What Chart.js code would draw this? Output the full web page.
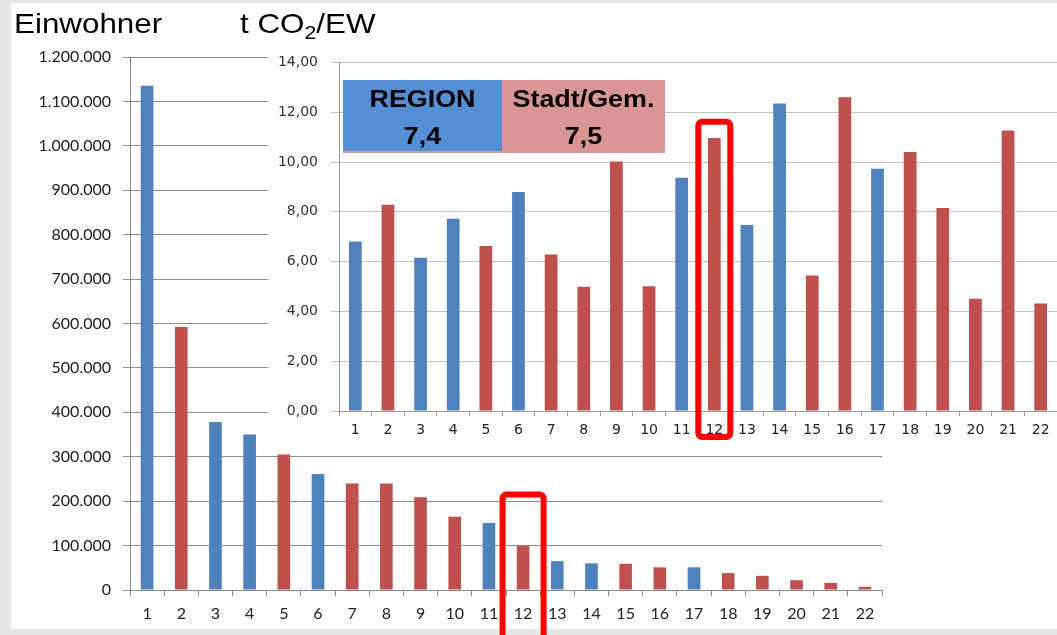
<!DOCTYPE html>
<html><head><meta charset="utf-8">
<script src="https://cdn.jsdelivr.net/npm/chart.js@4.4.1/dist/chart.umd.min.js"></script>
<style>
html,body{margin:0;padding:0;}
body{width:1057px;height:635px;background:#e7e7e7;position:relative;overflow:hidden;font-family:"Liberation Sans",Arial,sans-serif;}
#panel{position:absolute;left:11px;top:3px;width:1046px;height:626px;background:#fff;}
#c1{position:absolute;left:0;top:0;}
#wrap2{position:absolute;left:268px;top:41px;width:789px;height:399px;background:#fff;}
#c2{position:absolute;left:0;top:0;}
.title{position:absolute;font-size:28px;line-height:28px;color:#000;white-space:nowrap;transform:scaleX(1.12);transform-origin:0 0;}
.title sub{font-size:19px;line-height:0;vertical-align:-6px;}
.lbox{position:absolute;}
.ltxt{position:absolute;left:0;width:100%;text-align:center;font-weight:bold;font-size:24px;line-height:24px;color:#000;white-space:nowrap;transform:scaleX(1.12);transform-origin:50% 0;}
</style></head>
<body>
<div id="panel"></div>
<canvas id="c1" width="1057" height="635"></canvas>
<div id="wrap2"><canvas id="c2" width="789" height="399"></canvas></div>
<div class="title" style="left:14px;top:10px;">Einwohner</div>
<div class="title" style="left:240px;top:10px;">t CO<sub>2</sub>/EW</div>
<div class="lbox" style="left:343px;top:80px;width:322px;height:73px;background:#d99694;"></div>
<div class="lbox" style="left:343px;top:80px;width:159px;height:71px;background:#558ed5;"></div>
<div class="lbox" style="left:343px;top:80px;width:159px;height:73px;">
  <div class="ltxt" id="lgR1" style="top:7px;"></div>
  <div class="ltxt" id="lgR2" style="top:44px;"></div>
</div>
<div class="lbox" style="left:502px;top:80px;width:163px;height:73px;">
  <div class="ltxt" id="lgS1" style="top:7px;"></div>
  <div class="ltxt" id="lgS2" style="top:44px;"></div>
</div>
<script>
// ---- data ----
const categories = ['1','2','3','4','5','6','7','8','9','10','11','12','13','14','15','16','17','18','19','20','21','22'];
const einwohner = [1135000, 592000, 378000, 350000, 305000, 261000, 240000, 240000, 209000, 165000, 151000, 100000, 65000, 60000, 59000, 51000, 51000, 38000, 32000, 22000, 16000, 7000];
const co2PerEW = [6.81, 8.28, 6.15, 7.72, 6.63, 8.80, 6.29, 4.99, 10.02, 5.01, 9.37, 10.96, 7.47, 12.35, 5.44, 12.60, 9.73, 10.40, 8.15, 4.51, 11.27, 4.32];
const groups = ['REGION','Stadt/Gem.','REGION','REGION','Stadt/Gem.','REGION','Stadt/Gem.','Stadt/Gem.','Stadt/Gem.','Stadt/Gem.','REGION','Stadt/Gem.','REGION','REGION','Stadt/Gem.','Stadt/Gem.','REGION','Stadt/Gem.','Stadt/Gem.','Stadt/Gem.','Stadt/Gem.','Stadt/Gem.'];
const groupNames = ['REGION','Stadt/Gem.'];
const groupAverages = [7.4, 7.5];
const highlightCategory = '12';
const einwohnerTicks = [0, 1200000, 100000];   // min, max, step
const co2Ticks = [0, 14, 2];

// ---- styles ----
const barColors = {'REGION':'#4f81bd','Stadt/Gem.':'#c0504d'};
const fmtDE = (v, dec) => {
  let s = dec ? v.toFixed(dec) : String(Math.round(v));
  let [i, d] = s.split('.');
  i = i.replace(/\B(?=(\d{3})+(?!\d))/g, '.');
  return d ? i + ',' + d : i;
};
document.getElementById('lgR1').textContent = groupNames[0];
document.getElementById('lgR2').textContent = fmtDE(groupAverages[0], 1);
document.getElementById('lgS1').textContent = groupNames[1];
document.getElementById('lgS2').textContent = fmtDE(groupAverages[1], 1);

const highlightPlugin = {
  id: 'hl',
  afterDraw(chart, args, opts) {
    const xs = chart.scales.x, ys = chart.scales.y, ctx = chart.ctx;
    const i = categories.indexOf(highlightCategory);
    const cx = xs.getPixelForValue(i);
    const top = ys.getPixelForValue(opts.topValue);
    const bottom = chart.height + opts.bottomExtra;
    ctx.save();
    ctx.strokeStyle = '#ff0000';
    ctx.lineWidth = 6;
    ctx.beginPath();
    ctx.roundRect(cx - opts.width / 2, top, opts.width, bottom - top, 4);
    ctx.stroke();
    ctx.restore();
  }
};

const common = {
  responsive: false, animation: false, events: [],
};

new Chart(document.getElementById('c1'), {
  type: 'bar',
  data: { labels: categories, datasets: [{ data: einwohner, backgroundColor: groups.map(g => barColors[g]), categoryPercentage: 1, barPercentage: 0.37 }] },
  options: Object.assign({}, common, {
    layout: { padding: { left: 0, right: 175, top: 57, bottom: 0 } },
    plugins: { legend: { display: false }, tooltip: { enabled: false }, hl: { width: 41, topValue: 215000, bottomExtra: 20 } },
    scales: {
      x: {
        grid: { drawOnChartArea: false, offset: true, tickLength: 6, color: '#8a8a8a' },
        border: { color: '#8a8a8a' },
        ticks: { color: '#222', font: { family: 'Lato', size: 16 }, padding: 8, maxRotation: 0, autoSkip: false },
        afterFit(s) { s.height = 45; }
      },
      y: {
        min: einwohnerTicks[0], max: einwohnerTicks[1],
        ticks: { stepSize: einwohnerTicks[2], color: '#222', font: { family: 'Lato', size: 16 }, padding: 12, callback: v => fmtDE(v) },
        grid: { color: '#8e8e8e', tickLength: 7 },
        border: { color: '#8a8a8a' },
        afterFit(s) { s.width = 130; }
      }
    }
  }),
  plugins: [highlightPlugin]
});

new Chart(document.getElementById('c2'), {
  type: 'bar',
  data: { labels: categories, datasets: [{ data: co2PerEW, backgroundColor: groups.map(g => barColors[g]), categoryPercentage: 1, barPercentage: 0.39 }] },
  options: Object.assign({}, common, {
    layout: { padding: { left: 0, right: 0, top: 0, bottom: 0 } },
    plugins: { legend: { display: false }, tooltip: { enabled: false }, hl: { width: 32, topValue: 11.62, bottomExtra: -3 } },
    scales: {
      x: {
        grid: { drawOnChartArea: false, offset: true, tickLength: 5, color: '#999' },
        border: { color: '#999' },
        ticks: { color: '#222', font: { family: 'DejaVu Sans', size: 14 }, padding: 6, maxRotation: 0, autoSkip: false },
        afterFit(s) { s.height = 29; }
      },
      y: {
        min: co2Ticks[0], max: co2Ticks[1],
        ticks: { stepSize: co2Ticks[2], color: '#333', font: { family: 'DejaVu Sans', size: 14 }, padding: 13, callback: v => fmtDE(v, 2) },
        grid: { color: '#c4c4c4', tickLength: 8 },
        border: { color: '#999' },
        afterFit(s) { s.width = 71; }
      }
    }
  }),
  plugins: [highlightPlugin]
});
</script>
</body></html>
